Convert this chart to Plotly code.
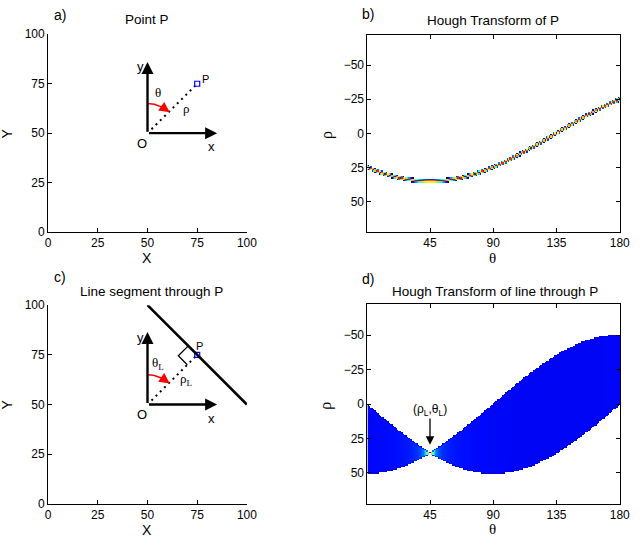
import numpy as np
import plotly.graph_objects as go

# Data
XY_TICKS = [0, 25, 50, 75, 100]
THETA_TICKS = [45, 90, 135, 180]
RHO_TICKS = [-50, -25, 0, 25, 50]
THETA_DEG = list(range(1, 181))          # accumulator columns (degrees)
RHO_BINS = list(range(-72, 73))          # accumulator rows
ORIGIN = [50, 50]                         # O in image coordinates
POINT_P = [75, 75]
SEGMENT_X = [50, 100]                     # line segment through P
SEGMENT_Y = [100, 50]
SEG_SAMPLES = 2001

FONT = 'Liberation Sans'
SERIF = 'Liberation Serif'
W, H = 640, 545


def px(x, y):
    """pixel -> paper coordinates"""
    return x / W, 1 - y / H


# ---------- Hough accumulators ----------
theta = np.radians(THETA_DEG)
rho = np.array(RHO_BINS, dtype=float)

rho_p = (POINT_P[0] - ORIGIN[0]) * np.cos(theta) + (POINT_P[1] - ORIGIN[1]) * np.sin(theta)
dist = np.abs(rho[:, None] - rho_p[None, :])
z_point = np.where(dist < 1.6, 1 - dist / 1.6, np.nan)

t = np.linspace(0, 1, SEG_SAMPLES)
sx = SEGMENT_X[0] + t * (SEGMENT_X[1] - SEGMENT_X[0]) - ORIGIN[0]
sy = SEGMENT_Y[0] + t * (SEGMENT_Y[1] - SEGMENT_Y[0]) - ORIGIN[1]
acc = np.zeros((len(RHO_BINS), len(THETA_DEG)))
for j, th in enumerate(theta):
    r = sx * np.cos(th) + sy * np.sin(th)
    idx = np.round(r).astype(int) - RHO_BINS[0]
    acc[:, j] = np.bincount(idx, minlength=len(RHO_BINS))[:len(RHO_BINS)]
z_line = np.where(acc > 0, acc / acc.max(), np.nan)


def to_list(z):
    return [[None if np.isnan(v) else float(v) for v in row] for row in z]


JET = [[0, 'rgb(0,0,140)'], [0.125, 'rgb(0,0,255)'], [0.375, 'rgb(0,255,255)'],
       [0.625, 'rgb(255,255,0)'], [0.875, 'rgb(255,0,0)'], [1, 'rgb(128,0,0)']]
BAND = [[0, 'rgb(0,0,235)'], [0.03, 'rgb(0,10,255)'], [0.12, 'rgb(0,70,255)'],
        [0.3, 'rgb(0,255,255)'], [0.55, 'rgb(255,255,0)'], [0.8, 'rgb(255,0,0)'],
        [1, 'rgb(128,0,0)']]

fig = go.Figure()

# ---------- panels a) and c): schematic ----------
ARC_R = 15
arc_ang = np.radians(np.linspace(90, 52, 30))
for xa, ya in (('x', 'y'), ('x3', 'y3')):
    fig.add_trace(go.Scatter(
        x=[ORIGIN[0] + 2, POINT_P[0] - 1], y=[ORIGIN[1] + 2, POINT_P[1] - 1],
        mode='lines', line=dict(color='black', width=2, dash='2px,4px'),
        xaxis=xa, yaxis=ya, hoverinfo='skip'))
    fig.add_trace(go.Scatter(
        x=ORIGIN[0] + ARC_R * np.cos(arc_ang), y=ORIGIN[1] + ARC_R * np.sin(arc_ang),
        mode='lines', line=dict(color='red', width=1.5),
        xaxis=xa, yaxis=ya, hoverinfo='skip'))
    fig.add_trace(go.Scatter(
        x=[POINT_P[0]], y=[POINT_P[1]], mode='markers',
        marker=dict(symbol='square-open', color='blue', size=5, line=dict(width=1.2)),
        xaxis=xa, yaxis=ya, hoverinfo='skip'))

fig.add_trace(go.Scatter(
    x=SEGMENT_X, y=SEGMENT_Y, mode='lines', line=dict(color='black', width=2.6),
    xaxis='x3', yaxis='y3', hoverinfo='skip'))
# right-angle mark
fig.add_trace(go.Scatter(
    x=[70.5, 65.5, 70], y=[79.5, 74.5, 70], mode='lines',
    line=dict(color='black', width=1.3), xaxis='x3', yaxis='y3', hoverinfo='skip'))

# ---------- panels b) and d): accumulators ----------
fig.add_trace(go.Heatmap(
    x=THETA_DEG, y=RHO_BINS, z=to_list(z_point), zmin=0, zmax=1,
    colorscale=JET, showscale=False, xaxis='x2', yaxis='y2', hoverinfo='skip'))
fig.add_trace(go.Heatmap(
    x=THETA_DEG, y=RHO_BINS, z=to_list(z_line), zmin=0, zmax=1,
    colorscale=BAND, showscale=False, xaxis='x4', yaxis='y4', hoverinfo='skip'))

tickfont = dict(family=FONT, size=12, color='black')


def axis(domain, anchor, rng, tickvals, mirror=False, reverse=False):
    return dict(domain=domain, anchor=anchor,
                range=rng[::-1] if reverse else rng,
                tickvals=tickvals, ticks='inside', ticklen=4, tickcolor='black',
                showline=True, linecolor='black', linewidth=1, mirror=mirror,
                showgrid=False, zeroline=False, tickfont=tickfont)


XA = [46 / W, 249 / W]
XB = [372 / W, 630 / W]
fig.update_layout(
    width=W, height=H, margin=dict(l=0, r=0, t=0, b=0),
    paper_bgcolor='white', plot_bgcolor='white', showlegend=False,
    xaxis=axis(XA, 'y', [0, 100], XY_TICKS),
    yaxis=axis([1 - 231 / H, 1 - 28 / H], 'x', [0, 100], XY_TICKS),
    xaxis2=axis(XB, 'y2', [0.5, 180.3], THETA_TICKS, mirror='ticks'),
    yaxis2=axis([1 - 231 / H, 1 - 29 / H], 'x2', [-72, 72.5], RHO_TICKS,
                mirror='ticks', reverse=True),
    xaxis3=axis(XA, 'y3', [0, 100], XY_TICKS),
    yaxis3=axis([1 - 510 / H, 1 - 306 / H], 'x3', [0, 100], XY_TICKS),
    xaxis4=axis(XB, 'y4', [0.5, 180.3], THETA_TICKS, mirror='ticks'),
    yaxis4=axis([1 - 510 / H, 1 - 305 / H], 'x4', [-72.5, 72.5], RHO_TICKS,
                mirror='ticks', reverse=True),
)

ann = []


def paper_text(text, x, y, size=12, family=FONT, angle=0):
    px_, py_ = px(x, y)
    ann.append(dict(text=text, x=px_, y=py_, xref='paper', yref='paper',
                    showarrow=False, xanchor='center', yanchor='middle',
                    textangle=angle, font=dict(family=family, size=size, color='black')))


def data_text(text, x, y, xa, ya, size=12, family=FONT):
    ann.append(dict(text=text, x=x, y=y, xref=xa, yref=ya, showarrow=False,
                    xanchor='center', yanchor='middle',
                    font=dict(family=family, size=size, color='black')))


def arrow(x0, y0, x1, y1, xa, ya, color='black', width=2.4, size=1.0):
    ann.append(dict(text='', x=x1, y=y1, ax=x0, ay=y0, xref=xa, yref=ya,
                    axref=xa, ayref=ya, showarrow=True, arrowhead=2,
                    arrowsize=size, arrowwidth=width, arrowcolor=color, standoff=0))


# panel labels and titles
paper_text('a)', 58, 8, size=14)
paper_text('b)', 373, 7, size=14)
paper_text('c)', 58, 277, size=14)
paper_text('d)', 373, 279, size=14)
paper_text('Point P', 147, 13, size=13.5)
paper_text('Hough Transform of P', 500, 14, size=13.5)
paper_text('Line segment through P', 152, 292, size=13.5)
paper_text('Hough Transform of line through P', 502, 292, size=13.5)

# axis titles
paper_text('X', 147, 258, size=14)
paper_text('X', 147, 537, size=14)
paper_text('Y', 4, 130, size=14, angle=-90)
paper_text('Y', 4, 408, size=14, angle=-90)
paper_text('θ', 500, 258, size=15, family=SERIF)
paper_text('θ', 500, 536, size=15, family=SERIF)
paper_text('ρ', 330, 131, size=16, family=SERIF, angle=-90)
paper_text('ρ', 330, 409, size=16, family=SERIF, angle=-90)

# schematic labels
for xa, ya, ytop, th, rh, ptxt in (('x', 'y', 86, 'θ', 'ρ', (79.3, 77.3)),
                                    ('x3', 'y3', 86.5, 'θ<sub>L</sub>', 'ρ<sub>L</sub>',
                                     (76, 79.5))):
    arrow(ORIGIN[0], ORIGIN[1], ORIGIN[0], ytop, xa, ya)
    arrow(ORIGIN[0], ORIGIN[1], 85, ORIGIN[1], xa, ya)
    arrow(57.5, 63.2, 61.2, 60.6, xa, ya, color='red', width=1.5, size=1.4)
    data_text('y', 46.3, 83.5, xa, ya, size=13)
    data_text('x', 82.4, 43.2, xa, ya, size=13)
    data_text('O', 47.1, 44.8, xa, ya, size=13)
    data_text('P', ptxt[0], ptxt[1], xa, ya, size=11)
    data_text(th, 55.5, 70.8, xa, ya, size=13, family=SERIF)
    data_text(rh, 69.5, 62.5, xa, ya, size=13, family=SERIF)

# intersection marker in d)
data_text('(ρ<sub>L</sub>,θ<sub>L</sub>)', 45, 4, 'x4', 'y4', size=12)
arrow(45, 9.5, 45, 29.5, 'x4', 'y4', width=1.3, size=1.3)

fig.update_layout(annotations=ann)

fig.write_html("out.html", config={'displayModeBar': False},
               post_script="document.body.style.margin='0';")
